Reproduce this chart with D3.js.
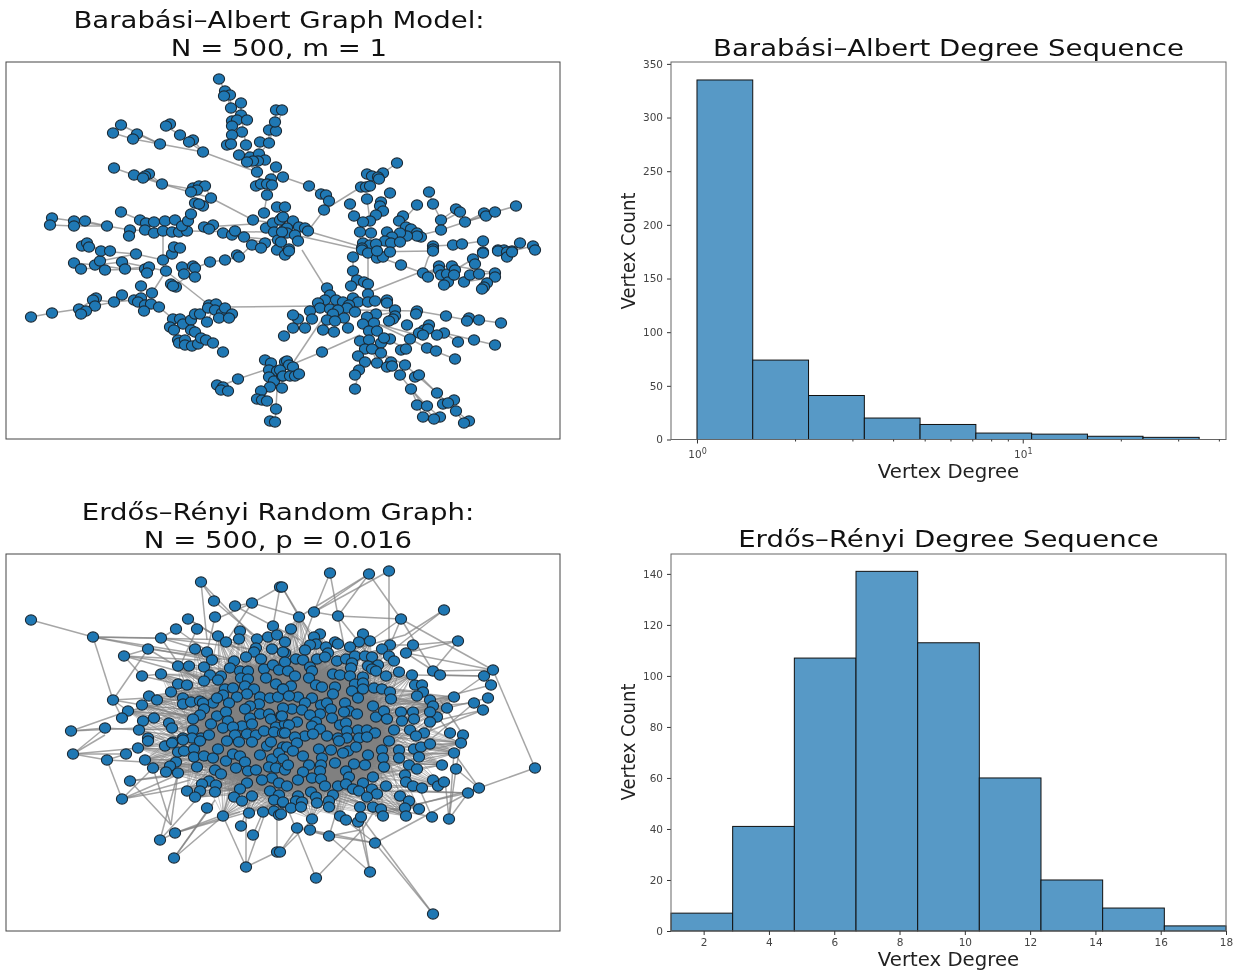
<!DOCTYPE html>
<html>
<head>
<meta charset="utf-8">
<title>Degree Sequences</title>
<script src="https://cdnjs.cloudflare.com/ajax/libs/d3/7.8.5/d3.min.js"></script>
<style>
body{margin:0;background:#fff;}
svg{filter:blur(0.4px);}
text{font-family:"DejaVu Sans",sans-serif;}
</style>
</head>
<body>
<script>
var baNodes = [219,79,225,91,230,95,224,96,241,103,231,108,241,115,232,121,237,120,247,120,232,126,242,132,232,135,227,145,231,144,246,145,260,142,269,143,269,130,276,131,275,122,276,110,282,110,
239,155,250,157,259,154,265,160,258,161,253,161,247,162,257,172,276,167,283,177,271,179,256,186,261,184,267,184,272,185,267,195,277,207,264,213,253,220,
121,125,113,133,137,134,133,139,160,144,170,124,166,126,180,135,193,140,189,142,203,152,
114,168,134,175,149,174,145,176,143,178,162,184,193,188,199,186,205,186,197,190,191,192,211,198,195,203,203,206,199,204,
52,218,50,225,74,221,74,226,85,221,107,226,121,212,130,230,129,236,140,220,146,223,154,222,165,221,175,220,145,230,154,233,163,231,172,232,179,232,187,231,182,226,188,221,191,214,204,227,213,225,209,229,223,233,232,235,235,231,244,237,252,245,265,243,261,248,
266,228,273,223,274,232,282,218,284,230,278,240,277,250,285,207,
280,220,283,217,293,221,287,228,287,233,282,232,299,227,305,228,308,231,295,235,298,241,281,242,289,249,309,186,321,194,326,195,329,201,324,210,
397,163,383,173,367,174,372,176,378,177,379,179,361,187,366,187,370,186,390,193,367,199,350,204,381,202,380,206,383,211,354,216,376,215,370,221,363,222,403,216,399,221,417,205,429,192,433,204,441,220,441,230,456,209,460,212,465,222,484,213,486,216,495,212,516,206,
406,227,411,229,417,233,421,237,417,236,407,236,400,233,387,232,360,232,371,233,392,237,385,241,391,243,400,242,363,243,370,245,376,244,362,248,433,246,433,249,453,245,462,244,483,241,498,250,504,250,512,251,520,243,533,246,535,250,483,252,
74,263,81,269,95,265,100,261,105,270,122,262,125,269,136,254,101,251,110,251,82,246,87,243,89,247,
145,269,149,267,147,273,163,260,166,271,172,254,174,247,180,248,182,267,184,274,193,266,195,268,195,277,210,262,225,260,237,255,239,257,171,284,176,287,173,286,141,286,152,293,122,295,114,302,96,298,93,300,95,306,79,309,86,311,81,314,52,313,31,317,
134,300,141,298,138,302,145,305,151,304,144,311,159,307,
173,319,180,319,183,324,170,327,174,330,191,320,195,314,200,314,191,330,195,332,207,322,209,305,216,304,208,308,215,310,222,313,225,308,232,314,219,318,229,318,
178,340,179,343,185,340,185,345,192,346,198,344,201,338,206,340,213,343,223,352,
238,379,217,385,223,387,221,390,228,391,
265,360,271,363,269,370,277,371,269,377,274,381,282,376,270,387,282,388,261,391,257,399,262,400,267,401,276,409,270,421,275,422,285,362,
353,257,353,271,357,280,364,282,368,284,351,286,368,294,327,288,330,295,325,300,318,303,320,308,336,300,343,302,353,298,358,302,349,305,347,308,355,312,368,302,375,301,387,300,387,303,310,311,330,309,338,310,333,314,344,318,327,320,335,321,312,319,298,319,293,315,293,328,305,328,323,330,334,332,348,328,284,336,
376,314,367,317,363,324,374,323,369,331,377,331,395,310,395,316,393,319,389,321,417,311,416,314,446,316,469,318,467,321,479,320,501,323,407,325,429,325,424,330,428,329,419,333,423,335,444,333,437,335,410,339,458,342,474,340,495,345,427,348,436,351,455,359,401,350,406,349,
360,341,369,340,381,343,390,339,384,338,365,349,372,349,381,353,358,356,365,362,377,363,391,362,387,367,392,366,405,365,359,370,355,375,355,389,400,375,415,377,419,375,411,389,437,393,454,400,443,404,448,403,417,405,427,406,456,411,423,417,440,417,434,419,469,421,464,423,
322,352,287,361,289,365,293,367,280,370,283,376,290,376,295,376,299,374,
285,255,289,251,362,250,368,253,377,258,383,257,390,252,377,251,433,251,401,265,423,273,428,277,439,266,439,270,441,275,447,274,448,282,444,285,452,266,455,270,454,275,464,282,470,275,473,259,475,264,479,274,483,253,495,273,495,277,487,283,484,287,482,289,498,251,507,252,507,257,512,252];

// gray links of the Barabasi-Albert graph, each one a flat polyline
var baEdges = [
[219,79,225,91,231,108,241,115,232,135,227,145],[241,103,241,115],[231,144,232,126],[241,115,246,145,250,157],[230,95,231,108],
[276,110,275,122,269,143,259,154],[269,130,269,143],[282,110,276,131],
[121,125,160,144],[113,133,133,139,160,144,203,152,257,172],[137,134,160,144],[166,126,180,135,189,142,203,152],[193,140,203,152],
[257,172,267,195,264,213],[257,172,261,184],[276,167,271,179],[283,177,309,186,321,194],[239,155,257,172],
[114,168,134,175,162,184,211,198,253,220,273,223],[145,176,162,184],[149,174,162,184],[162,184,197,190],[199,204,211,198],[205,186,211,198],
[52,218,74,221,107,226],[50,225,74,226,107,226],[85,221,107,226,130,230,179,232],[187,231,266,232],[204,227,253,224],[121,212,140,220,146,223],[182,226,191,214],[213,225,204,227],
[223,233,244,237,274,240],[232,235,265,243],[163,231,163,260],[188,221,187,231],[175,220,179,232],[154,222,154,233],
[295,235,362,250],[290,226,362,247],[308,231,324,210,361,187],[329,201,324,210],[326,195,329,201],
[397,163,383,173,372,176],[378,177,361,187],[367,199,370,221],[354,216,363,222],[350,204,354,216],[381,202,376,215,370,221],[403,216,399,221],[417,205,399,225],[390,193,381,202],
[429,192,433,204,441,220,441,230,417,236],[456,209,441,220],[460,212,441,222],[516,206,495,212,465,222,441,230],[484,213,465,222],[486,216,465,222],
[453,245,462,244,483,241],[362,252,433,251],[433,246,453,245],[520,243,512,251],[533,246,512,251],
[74,263,96,265],[81,269,96,268],[105,270,145,269],[122,262,166,271],[100,261,136,254,163,260],[125,269,145,267],[101,251,136,254],[163,260,172,254],[166,271,152,293],[166,271,209,305],[176,285,195,270],[195,268,210,262,225,260,239,257,252,245],[87,243,101,251],[96,265,122,262],[95,265,125,269],[141,286,152,293],[171,284,176,287],
[31,317,52,313,79,309,93,300],[79,309,114,302],[95,300,114,302,122,295],[114,302,134,300,151,304,159,307,173,319],[86,311,96,298],[81,314,95,306],[144,311,145,305],
[225,307,320,306],[191,320,183,324],[207,322,216,304],[195,332,191,330],[201,338,191,330],[223,352,213,343],[213,343,206,340],
[302,250,325,287],[368,255,368,294],[370,292,418,273],[423,273,428,258,433,250],[353,257,353,271,351,286],[401,265,423,273],[368,253,401,265],[357,280,351,286],
[423,273,441,270],[423,273,447,266],[428,277,439,266],[495,273,455,266],[455,270,473,259],[470,275,495,273],[448,282,470,275],[444,285,454,275],[464,282,495,277],[482,289,495,277],
[355,310,417,311,446,316,467,320],[479,320,501,323],[368,317,395,312],[374,323,410,333,424,333],[444,333,458,342],[444,333,474,340,495,345],[380,325,410,339,427,348,455,359],[427,348,436,351],[406,349,380,335],
[323,318,293,363],[322,352,293,364],[322,352,360,335],[330,309,320,330],
[381,353,405,365,437,393,456,411,469,421],[411,389,423,417],[411,389,427,406],[411,389,434,419],[392,366,400,375,411,389],[437,393,443,404],[456,411,464,423],[419,375,437,393],
[359,370,355,389],[365,362,355,375],[365,349,358,356],[372,349,377,363],[381,353,391,362],[427,406,440,417],
[223,385,238,379,265,370],[277,390,276,409,275,422],[262,400,270,387]];

var erNodes = [201,582,214,601,235,606,252,603,280,587,31,620,93,637,188,619,215,617,176,629,197,629,161,638,218,636,240,631,226,642,239,639,273,626,268,637,277,635,257,639,148,649,124,656,195,649,207,652,256,648,254,652,272,649,246,657,212,660,261,659,285,653,178,666,189,666,204,667,234,661,230,668,240,671,248,671,264,669,273,665,279,670,142,676,161,674,210,675,221,676,218,680,204,681,241,678,248,679,266,678,178,684,187,685,171,692,225,689,233,688,245,686,254,689,247,694,276,684,283,689,260,697,113,700,149,696,157,700,142,705,183,698,183,704,191,702,200,701,213,703,223,695,217,698,237,697,229,703,203,703,204,709,270,698,278,697,259,704,250,706,245,709,128,711,122,718,154,718,143,721,200,715,193,719,217,716,226,712,228,721,250,718,260,714,269,714,271,719,281,716,169,723,172,728,211,724,223,728,242,726,252,724,276,727,285,724,105,728,71,731,139,730,148,738,183,738,193,730,201,738,209,735,233,727,235,735,247,734,256,735,264,731,274,732,283,733,192,738,173,742,
73,754,107,760,126,754,138,748,145,760,153,768,165,746,176,762,170,766,166,772,178,773,178,752,184,751,194,749,194,757,204,756,213,758,218,749,197,767,215,770,221,774,226,761,236,768,233,754,240,756,245,762,248,771,256,770,260,755,272,759,269,767,276,768,272,778,262,780,279,783,130,781,122,799,209,781,202,784,216,785,200,791,187,791,215,792,195,797,247,783,240,789,234,797,242,801,252,796,270,791,279,795,274,800,283,803,207,808,223,816,249,813,263,812,274,811,279,815,241,826,253,835,175,833,160,840,174,858,246,867,277,852,148,741,172,743,183,740,200,741,227,741,239,742,252,742,267,746,271,742,283,747,279,753,283,759,285,770,
330,573,369,574,389,571,282,587,444,610,299,617,314,612,338,616,401,619,291,629,458,641,285,642,320,634,314,637,316,644,310,645,335,642,338,644,326,647,363,634,359,642,370,641,350,647,413,645,390,645,382,649,389,656,406,653,394,661,305,650,283,652,328,653,296,659,303,660,317,659,325,657,285,662,337,661,346,659,355,656,365,656,372,657,352,663,378,665,368,666,372,669,376,671,288,671,310,667,312,671,399,672,412,675,433,671,440,675,493,670,484,676,491,685,488,698,474,703,483,710,454,697,447,708,295,676,309,678,333,674,340,675,351,668,350,676,386,676,363,677,291,686,316,685,322,687,335,687,355,684,363,683,363,689,374,688,382,689,390,692,415,685,422,685,423,692,417,696,391,699,430,700,433,706,283,689,298,697,289,696,312,698,333,694,352,691,358,698,345,703,321,705,327,703,305,703,373,706,331,709,292,709,302,710,283,708,320,714,349,711,344,712,357,714,401,712,413,712,376,717,384,711,387,719,437,717,430,712,430,722,414,719,402,721,310,715,332,718,282,716,297,722,289,725,316,722,312,726,340,725,346,723,320,729,347,731,285,733,358,730,367,730,375,733,394,730,410,730,424,733,450,733,463,735,305,736,313,734,327,736,338,738,347,738,359,738,367,737,389,741,416,736,295,737,
287,747,297,743,293,751,303,756,319,749,322,758,331,750,339,741,348,751,343,753,356,747,368,755,382,750,383,758,399,750,399,758,414,749,421,747,430,744,419,757,461,743,454,753,442,765,456,769,535,768,288,765,309,765,321,765,335,763,354,764,365,765,384,767,409,765,417,769,303,772,320,771,346,771,349,777,312,778,321,779,298,780,373,777,405,775,406,782,413,786,422,788,433,780,438,786,444,782,479,788,468,793,287,786,325,786,338,786,346,784,363,783,386,786,311,792,353,789,359,791,372,789,377,794,298,796,316,797,333,795,367,797,400,796,409,801,283,802,296,801,302,802,317,803,329,801,291,808,301,807,329,807,360,807,373,807,381,809,405,808,419,809,383,816,406,816,432,817,449,819,312,819,340,816,346,820,358,822,361,817,297,828,310,830,329,836,375,843,370,872,316,878,433,914,281,814,280,852];

var erEdges = [
[31,620,93,637,161,638],[93,637,113,700],[93,637,204,655],[93,637,240,640],[93,637,220,662],
[201,582,214,601],[201,582,207,640],[201,582,252,635],[252,603,214,620],[252,603,300,617],[252,603,235,606],[252,603,226,642],[280,587,273,626],[280,587,252,603],[235,606,300,640],[214,601,260,640],
[330,573,314,612],[330,573,338,616],[369,574,314,612],[369,574,338,616],[369,574,299,617],[389,571,314,612],[389,571,389,640],[369,574,401,619],[282,587,314,640],[282,587,299,617],[314,612,338,616,401,619],[401,619,370,641],[401,619,390,645],[401,619,493,670],[401,619,433,671],[444,610,405,635,350,650],[444,610,380,660],[458,641,413,645],[458,641,433,671],[458,641,406,653],[413,645,390,645],[406,653,493,670],[406,653,440,675],[338,616,345,650],[314,612,300,650],[338,616,365,650],
[493,670,535,768],[493,670,484,676],[433,671,493,670],[440,675,484,676],[412,675,484,676],[484,676,454,697],[491,685,433,700],[488,698,447,708],[474,703,433,706],[483,710,430,722],[474,703,430,740],[483,710,424,733],[447,708,430,730],[454,697,424,730],[463,735,440,700],[450,733,425,700],[456,769,479,788],[461,743,456,769],[454,753,479,788],[454,753,449,819],[456,769,449,819],[468,793,449,819],[535,768,479,788,468,793],[468,793,375,843],[468,793,340,790],[468,793,400,790],[479,788,375,816],[432,817,420,790],[449,819,445,780],[468,793,380,812],[432,817,350,800],
[375,843,433,914],[361,817,433,914],[316,878,362,830],[362,830,375,810],[316,878,280,790],[370,872,329,836],[370,872,361,817],[370,872,358,822],[329,836,375,843],[329,836,340,800],[329,836,297,828],[280,852,297,828],[280,852,312,820],[310,830,329,836],[329,836,360,830],[375,843,340,816],[375,843,310,830],
[246,867,223,816],[246,867,246,813],[246,867,277,852],[246,867,268,805],[253,835,263,812],[241,826,250,800],[277,852,277,815],[174,858,223,816,230,790],[174,858,215,800],[174,858,213,804],[160,840,175,833],[171,825,130,781],[171,825,153,768],[171,825,178,773],[160,840,205,790],[160,840,178,773],[175,833,223,815],[175,833,290,800],[175,833,240,812],
[122,799,107,760],[122,799,153,768],[122,799,190,780],[122,799,200,785],[122,799,200,765],[130,781,200,770],[130,781,180,775],
[73,754,107,760],[73,754,105,728],[73,754,139,748],[73,754,126,754],[73,754,105,735],[71,731,105,728,139,730],[71,731,128,711],[71,731,139,728],[107,760,126,754],[107,760,200,765],
[113,700,142,705,200,720],[113,700,200,695],[113,700,122,718],[113,700,128,711],[124,656,142,676],[124,656,230,670],[124,656,210,680],[124,656,200,660],[142,676,204,690],[142,676,161,674],[148,649,124,656],[148,649,200,680],[148,649,230,660],[161,638,260,650],[161,638,207,652],[161,638,180,666],[148,649,113,700],[176,629,220,660],[176,629,161,638],[188,619,226,642],[215,617,207,652],[188,619,240,650],[197,629,180,666],[218,636,230,668]];

// rim and middle of the Erdos-Renyi tangle: every rim vertex is tied across the centre,
// single links cannot be read in there
var erRim = [135,730,128,711,142,705,139,748,145,760,153,768,166,772,187,791,200,797,223,816,249,813,274,811,312,819,340,816,383,816,406,816,419,809,442,786,442,765,456,753,461,743,447,708,433,706,423,692,412,675,399,672,394,661,382,649,370,641,350,647,320,634,299,617,291,629,268,637,240,631,218,636,195,649,178,666,161,674,171,692,149,696,454,697];
var erMiddle = [220,690,250,680,280,675,310,680,340,690,370,700,200,720,230,725,260,725,290,720,320,725,350,725,380,730,190,750,220,760,250,760,280,755,310,755,340,760,370,760,230,790,260,790,290,785,320,790,350,785];
var erCore = [205,700,222,676,250,662,290,656,330,660,360,678,385,705,395,745,382,772,355,790,310,798,260,794,225,780,200,758,192,730];

// histograms
var baBinEdges = [1,1.483,2.2,3.264,4.84,7.18,10.65,15.8,23.4,34.8];
var baCounts = [335,74,41,20,14,6,5,3,2];
var baCountTicks = [0,50,100,150,200,250,300,350];
var baMinorTicks = [2,3,4,5,6,7,8,9,20,30,40];
var baMajorTicks = [1,10];
var erBinEdges = [1,2.889,4.778,6.667,8.556,10.444,12.333,14.222,16.111,18];
var erCounts = [7,41,107,141,113,60,20,9,2];
var erCountTicks = [0,20,40,60,80,100,120,140];
var erDegreeTicks = [2,4,6,8,10,12,14,16,18];

var svg = d3.select("body").append("svg").attr("width", 1242).attr("height", 972);

var defs = svg.append("defs");
defs.append("filter").attr("id", "soft").attr("x", "-20%").attr("y", "-20%").attr("width", "140%").attr("height", "140%")
  .append("feGaussianBlur").attr("stdDeviation", 7);

function toPoints(flat) {
  var out = [];
  for (var i = 0; i < flat.length; i += 2) out.push([flat[i], flat[i + 1]]);
  return out;
}

function drawGraph(box, nodes, edges, extra) {
  var g = svg.append("g").attr("transform", "translate(" + box.x + "," + box.y + ")");
  var x = d3.scaleLinear().domain([box.x, box.x + box.w]).range([0, box.w]);
  var y = d3.scaleLinear().domain([box.y, box.y + box.h]).range([0, box.h]);
  var line = d3.line().x(function(d) { return x(d[0]); }).y(function(d) { return y(d[1]); });

  if (extra) {
    var rim = toPoints(extra.rim), mid = toPoints(extra.middle);
    rim.forEach(function(a) {
      mid.forEach(function(b) {
        g.append("line")
          .attr("x1", x(a[0])).attr("y1", y(a[1]))
          .attr("x2", x(b[0])).attr("y2", y(b[1]))
          .attr("stroke", "gray").attr("stroke-width", 1).attr("opacity", 0.4);
      });
    });
    g.append("path").attr("d", line.curve(d3.curveCardinalClosed)(toPoints(extra.core)))
      .attr("fill", "#808080").attr("filter", "url(#soft)");
    line.curve(d3.curveLinear);
  }

  g.append("g").selectAll("path").data(edges).enter().append("path")
    .attr("d", function(d) { return line(toPoints(d)); })
    .attr("fill", "none").attr("stroke", "gray")
    .attr("stroke-width", 1.5).attr("opacity", 0.7);

  g.append("g").selectAll("ellipse").data(toPoints(nodes)).enter().append("ellipse")
    .attr("cx", function(d) { return x(d[0]); })
    .attr("cy", function(d) { return y(d[1]); })
    .attr("rx", 5.6).attr("ry", 5.1).attr("fill", "#1f78b4")
    .attr("stroke", "#1a2a36").attr("stroke-width", 1.1);

  g.append("rect").attr("width", box.w).attr("height", box.h)
    .attr("fill", "none").attr("stroke", "#444").attr("stroke-width", 1);
}

function drawHist(box, x, edges, counts, yMax, yTicks) {
  var g = svg.append("g").attr("transform", "translate(" + box.x + "," + box.y + ")");
  var y = d3.scaleLinear().domain([0, yMax]).range([box.h, 0]);

  g.append("g").selectAll("rect").data(counts).enter().append("rect")
    .attr("x", function(d, i) { return x(edges[i]); })
    .attr("y", function(d) { return y(d); })
    .attr("width", function(d, i) { return x(edges[i + 1]) - x(edges[i]); })
    .attr("height", function(d) { return box.h - y(d); })
    .attr("fill", "#5799c6").attr("stroke", "#111").attr("stroke-width", 1);

  var axisY = g.append("g").call(d3.axisLeft(y).tickValues(yTicks).tickSize(4).tickPadding(4).tickFormat(d3.format("d")));
  axisY.select(".domain").remove();
  styleAxis(axisY);

  g.append("rect").attr("width", box.w).attr("height", box.h)
    .attr("fill", "none").attr("stroke", "#666").attr("stroke-width", 1);
  return g;
}

function styleAxis(a) {
  a.selectAll("text").attr("font-size", 10.5).attr("fill", "#444").attr("font-family", "DejaVu Sans");
  a.selectAll("line").attr("stroke", "#333");
}

// the titles in the picture are wider than the plain font
function title(lines, cx, y0) {
  lines.forEach(function(t, i) {
    svg.append("text").attr("transform", "translate(" + cx + "," + (y0 + i * 28) + ") scale(1.16,1)")
      .attr("text-anchor", "middle").attr("font-size", 23.75).attr("fill", "#111").text(t);
  });
}

function axisLabels(cy, yBase) {
  svg.append("text").attr("transform", "translate(948.5," + yBase + ") scale(1.06,1)").attr("text-anchor", "middle")
    .attr("font-size", 18.6).attr("fill", "#222").text("Vertex Degree");
  svg.append("text").attr("transform", "translate(634.5," + cy + ") rotate(-90) scale(1,1.06)")
    .attr("text-anchor", "middle").attr("font-size", 18).attr("fill", "#222").text("Vertex Count");
}

// left column
drawGraph({x: 6, y: 62, w: 554, h: 377}, baNodes, baEdges);
drawGraph({x: 6, y: 554, w: 554, h: 377}, erNodes, erEdges, {core: erCore, rim: erRim, middle: erMiddle});

// right top, log x
var boxBa = {x: 671, y: 62, w: 555, h: 377.5};
var xLog = d3.scaleLog().domain([0.8322, 42.07]).range([0, boxBa.w]);
var gBa = drawHist(boxBa, xLog, baBinEdges, baCounts, 351.75, baCountTicks);
var minor = gBa.append("g").attr("transform", "translate(0," + boxBa.h + ")")
  .call(d3.axisBottom(xLog).tickValues(baMinorTicks).tickSize(2).tickFormat(""));
minor.select(".domain").remove();
styleAxis(minor);
var major = gBa.append("g").attr("transform", "translate(0," + boxBa.h + ")")
  .call(d3.axisBottom(xLog).tickValues(baMajorTicks).tickSize(4).tickPadding(7).tickFormat(""));
major.select(".domain").remove();
major.selectAll("text").each(function(d) {
  var t = d3.select(this);
  t.append("tspan").text("10");
  t.append("tspan").attr("dy", -4).attr("font-size", 8).text(Math.round(Math.log10(d)));
});
styleAxis(major);

// right bottom
var boxEr = {x: 671, y: 554, w: 555, h: 377};
var xLin = d3.scaleLinear().domain([1, 18]).range([0, boxEr.w]);
var gEr = drawHist(boxEr, xLin, erBinEdges, erCounts, 147.8, erCountTicks);
var axisEr = gEr.append("g").attr("transform", "translate(0," + boxEr.h + ")")
  .call(d3.axisBottom(xLin).tickValues(erDegreeTicks).tickSize(4).tickPadding(4));
axisEr.select(".domain").remove();
styleAxis(axisEr);

title(["Barabási–Albert Graph Model:", "N = 500, m = 1"], 279, 28);
title(["Barabási–Albert Degree Sequence"], 948.5, 56);
title(["Erdős–Rényi Random Graph:", "N = 500, p = 0.016"], 278, 519.5);
title(["Erdős–Rényi Degree Sequence"], 948.5, 547);
axisLabels(251, 478);
axisLabels(742, 966);
</script>
</body>
</html>
